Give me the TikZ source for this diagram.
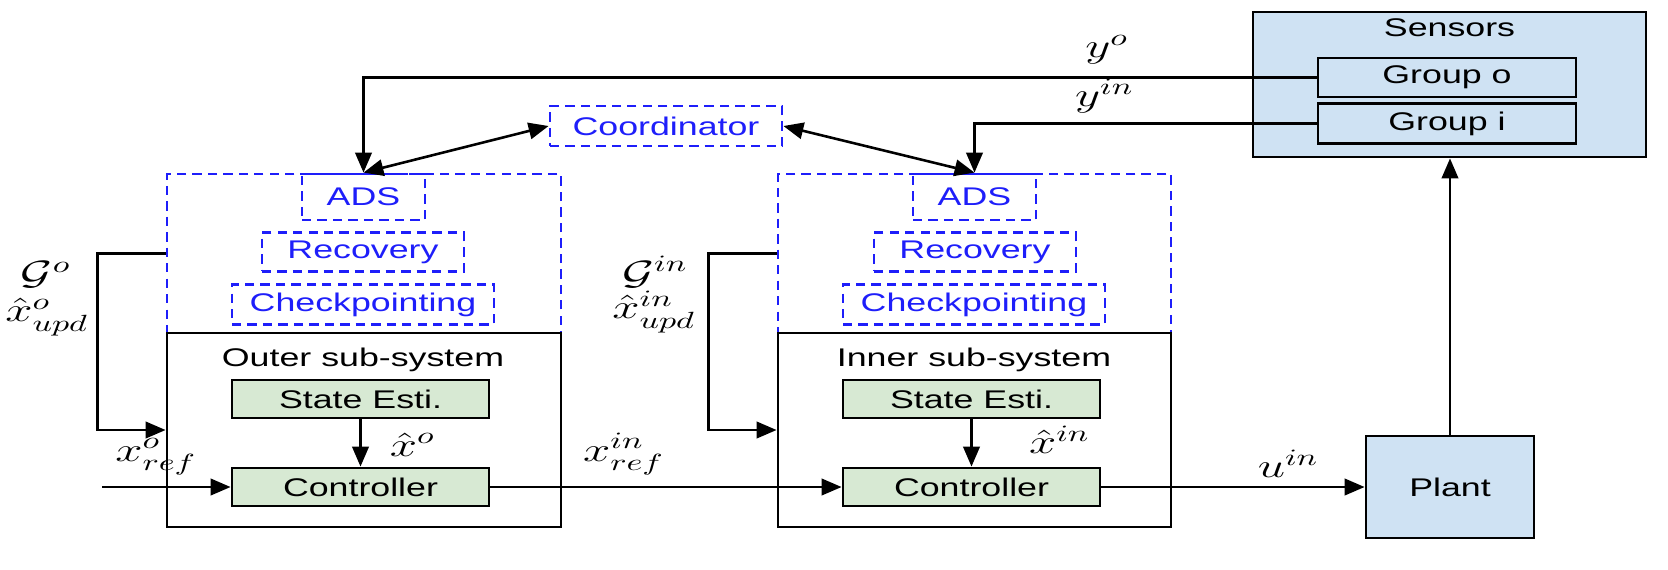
\documentclass[tikz,border=0pt]{standalone}
\usepackage{amsmath,amssymb}
\usepackage{graphicx}
\usepackage{fontspec}
\setmainfont{Liberation Sans}[FakeStretch=1.4]
\usetikzlibrary{arrows.meta}

\definecolor{dsblue}{RGB}{30,30,250}
\definecolor{estgreen}{RGB}{215,233,211}
\definecolor{skyfill}{RGB}{207,226,243}

\newcommand{\txtsize}{\fontsize{10.9}{13}\selectfont}
\newcommand{\mlab}[1]{\scalebox{1.45}[1]{\fontsize{14.5}{17}\selectfont$#1$}}

\begin{document}
\begin{tikzpicture}[x=0.015cm, y=-0.015cm, font=\txtsize,
    sbox/.style={draw, line width=1.2pt, fill=skyfill},
    gbox/.style={draw, line width=1.2pt, fill=estgreen, minimum width=3.855cm, minimum height=0.57cm},
    dbox/.style={draw=dsblue, text=dsblue, dash pattern=on 4pt off 2.6pt, line width=1.2pt},
    frame/.style={draw, line width=1.2pt},
    arr/.style={-{Triangle[length=8.5pt,width=7pt]}, line width=1.1pt},
    barr/.style={{Triangle[length=8.5pt,width=7pt]}-{Triangle[length=8.5pt,width=7pt]}, line width=1.1pt},
    lbl/.style={inner sep=1pt}
]
\useasboundingbox (0,0) rectangle (1668,569);

% sensors and plant
\node[sbox, minimum width=5.895cm, minimum height=2.175cm] (sensors) at (1449.5,84.5) {};
\node (senstxt) at (1449.5,28) {Sensors};
\node[sbox, minimum width=3.87cm, minimum height=0.585cm] (grpo) at (1447,77.5) {Group o};
\node[sbox, minimum width=3.87cm, minimum height=0.585cm] (grpi) at (1447,123.5) {Group i};
\node[sbox, minimum width=2.52cm, minimum height=1.53cm] (plant) at (1450,487) {Plant};

\node[dbox, minimum width=3.48cm, minimum height=0.6cm] (coord) at (666,126) {Coordinator};

% outer sub-system
\node[dbox, minimum width=5.91cm, minimum height=2.385cm] (ftlo) at (364,253.5) {};
\node[frame, minimum width=5.91cm, minimum height=2.91cm] (subo) at (364,430) {};
\node (subotxt) at (363,360) {Outer sub-system};
\node[dbox, minimum width=1.845cm, minimum height=0.69cm] (adso) at (363.5,197) {ADS};
\node[dbox, minimum width=3.03cm, minimum height=0.57cm] (recoo) at (363,252) {Recovery};
\node[dbox, minimum width=3.93cm, minimum height=0.555cm] (chko) at (363,304.5) {Checkpointing};
\node[gbox] (esto) at (360.5,399) {State Esti.};
\node[gbox] (ctlo) at (360.5,487) {Controller};

% inner sub-system
\node[dbox, minimum width=5.895cm, minimum height=2.385cm] (ftli) at (974.5,253.5) {};
\node[frame, minimum width=5.895cm, minimum height=2.91cm] (subi) at (974.5,430) {};
\node (subitxt) at (974,360) {Inner sub-system};
\node[dbox, minimum width=1.845cm, minimum height=0.69cm] (adsi) at (974.5,197) {ADS};
\node[dbox, minimum width=3.03cm, minimum height=0.57cm] (recoi) at (975,252) {Recovery};
\node[dbox, minimum width=3.93cm, minimum height=0.555cm] (chki) at (974,304.5) {Checkpointing};
\node[gbox] (esti) at (971.5,399) {State Esti.};
\node[gbox] (ctli) at (971.5,487) {Controller};

% labels of the update loops
\node[lbl] (lgo) at (46,275) {\mlab{\mathcal{G}^{o}}};
\node[lbl] (lxo) at (47,317) {\mlab{\hat{x}^{o}_{upd}}};
\node[lbl] (lgi) at (655,272) {\mlab{\mathcal{G}^{in}}};
\node[lbl] (lxi) at (654,312) {\mlab{\hat{x}^{in}_{upd}}};

\coordinate (xin) at (102,487);

% signals
\draw[arr] (grpo.west) -| node[lbl, pos=0.11, above=4pt] (lyo) {\mlab{y^{o}}} (adso.north);
\draw[arr] (grpi.west) -| node[lbl, pos=0.31, above=3pt] (lyi) {\mlab{y^{in}}} (adsi.north);
\draw[barr] (coord.west) -- (adso.north);
\draw[barr] (coord.east) -- (adsi.north);
\draw[arr] (ftlo.west) -- ++(-68,0) |- (subo.west);
\draw[arr] (ftli.west) -- ++(-68,0) |- (subi.west);
\draw[arr] (esto) -- node[lbl, pos=0.53, right=11pt] (lxho) {\mlab{\hat{x}^{o}}} (ctlo);
\draw[arr] (esti) -- node[lbl, pos=0.43, right=23pt] (lxhi) {\mlab{\hat{x}^{in}}} (ctli);
\draw[arr] (xin) -- node[lbl, pos=0.42, above=3.5pt] (lxro) {\mlab{x^{o}_{ref}}} (ctlo.west);
\draw[arr] (ctlo.east) -- node[lbl, pos=0.38, above=3.5pt] (lxri) {\mlab{x^{in}_{ref}}} (ctli.west);
\draw[arr] (ctli.east) -- node[lbl, pos=0.71, above=2.5pt] (lu) {\mlab{u^{in}}} (plant.west);
\draw[arr] (plant.north) -- (plant.north |- sensors.south);
\end{tikzpicture}
\end{document}
